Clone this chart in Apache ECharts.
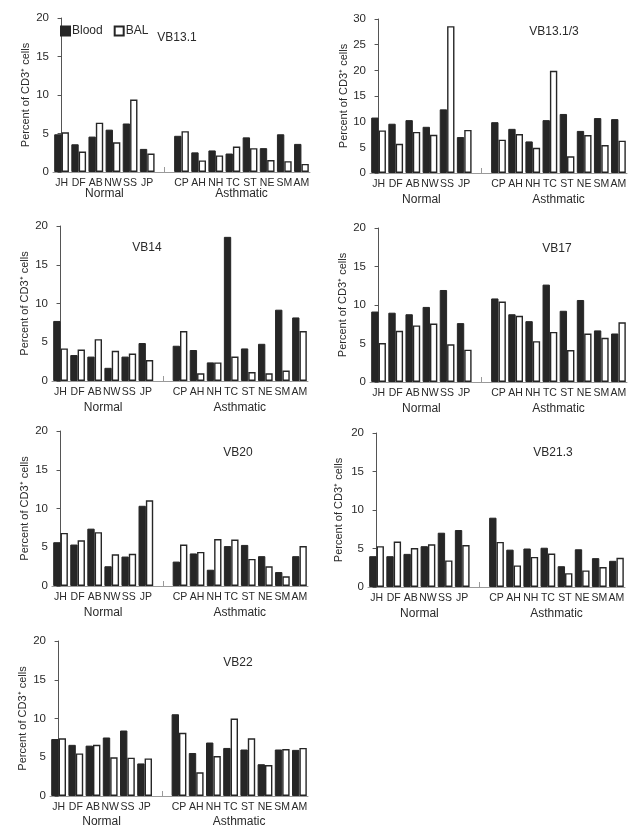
<!DOCTYPE html>
<html>
<head>
<meta charset="utf-8">
<script src="https://cdn.jsdelivr.net/npm/echarts@6/dist/echarts.min.js"></script>
<style>
html,body{margin:0;padding:0;background:#fff;}
#main{width:640px;height:833px;}
</style>
</head>
<body>
<div id="main"></div>
<script>
// Categories (the empty one is the gap between groups)
const subjects = ['JH','DF','AB','NW','SS','JP','','CP','AH','NH','TC','ST','NE','SM','AM'];
const groupLabels = ['Normal','Asthmatic'];
const yTicks20 = [0,5,10,15,20];
const yTicks30 = [0,5,10,15,20,25,30];

// VB13.1
const vb131Blood = [4.9,3.6,4.6,5.5,6.3,3.0,null,4.7,2.55,2.8,2.4,4.5,3.1,4.9,3.65];
const vb131Bal   = [5.15,2.65,6.4,3.85,9.4,2.4,null,5.3,1.5,2.15,3.3,3.1,1.55,1.4,1.05];
// VB13.1/3
const vb1313Blood = [10.8,9.6,10.3,9.0,12.4,7.0,null,9.9,8.6,6.15,10.3,11.5,8.2,10.7,10.5];
const vb1313Bal   = [8.3,5.7,8.0,7.45,28.6,8.4,null,6.5,7.6,4.9,19.9,3.25,7.4,5.45,6.3];
// VB14
const vb14Blood = [7.75,3.35,3.15,1.7,3.15,4.9,null,4.55,4.0,2.4,18.6,4.2,4.8,9.2,8.2];
const vb14Bal   = [4.2,4.05,5.4,3.9,3.55,2.7,null,6.45,1.0,2.4,3.15,1.15,1.0,1.35,6.45];
// VB17
const vb17Blood = [9.15,9.0,8.8,9.75,11.95,7.65,null,10.85,8.8,7.9,12.65,9.25,10.65,6.7,6.3];
const vb17Bal   = [5.05,6.65,7.35,7.6,4.9,4.2,null,10.45,8.6,5.3,6.5,4.15,6.3,5.75,7.75];
// VB20
const vb20Blood = [5.65,5.35,7.4,2.55,3.8,10.35,null,3.15,4.2,2.1,5.15,5.3,3.85,1.8,3.85];
const vb20Bal   = [6.85,5.9,6.95,4.1,4.15,11.05,null,5.35,4.4,6.05,6.0,3.5,2.55,1.25,5.15];
// VB21.3
const vb213Blood = [4.0,4.0,4.3,5.3,7.05,7.4,null,9.0,4.85,5.0,5.1,2.7,4.9,3.75,3.4];
const vb213Bal   = [5.3,5.9,5.05,5.55,3.45,5.45,null,5.85,2.8,3.9,4.35,1.8,2.15,2.6,3.8];
// VB22
const vb22Blood = [7.35,6.6,6.5,7.55,8.45,4.2,null,10.55,5.55,6.9,6.2,6.0,4.1,6.0,5.95];
const vb22Bal   = [7.45,5.5,6.6,5.0,4.95,4.85,null,8.15,3.05,5.15,10.0,7.45,4.0,6.05,6.2];

const FONT = 'Liberation Sans, Arial, Helvetica, sans-serif';
const TXT = '#2a2a2a';
const DARK = '#262626';

const panels = [
  {title:'VB13.1',   blood:vb131Blood,  bal:vb131Bal,  ticks:yTicks20, grid:{left:53,top:18,width:257,height:154}, tpos:[177,38],  gm:16, ng:22},
  {title:'VB13.1/3', blood:vb1313Blood, bal:vb1313Bal, ticks:yTicks30, grid:{left:370,top:19,width:257,height:154}, tpos:[554,32], gm:21, ng:20},
  {title:'VB14',     blood:vb14Blood,   bal:vb14Bal,   ticks:yTicks20, grid:{left:52,top:226,width:256,height:155}, tpos:[147,248], gm:21, ng:22},
  {title:'VB17',     blood:vb17Blood,   bal:vb17Bal,   ticks:yTicks20, grid:{left:370,top:228,width:257,height:154}, tpos:[557,249], gm:21, ng:22},
  {title:'VB20',     blood:vb20Blood,   bal:vb20Bal,   ticks:yTicks20, grid:{left:52,top:431,width:256,height:155}, tpos:[238,453], gm:21, ng:22},
  {title:'VB21.3',   blood:vb213Blood,  bal:vb213Bal,  ticks:yTicks20, grid:{left:368,top:433,width:257,height:154}, tpos:[553,453], gm:21, ng:24},
  {title:'VB22',     blood:vb22Blood,   bal:vb22Bal,   ticks:yTicks20, grid:{left:50,top:641,width:258,height:155}, tpos:[238,663], gm:20, ng:22}
];

const grids = [], xAxes = [], yAxes = [], series = [], graphics = [];
const gapIndex = subjects.indexOf('');
const normalCenter = (0 + gapIndex - 1) / 2;
const asthCenter = (gapIndex + 1 + subjects.length - 1) / 2;

panels.forEach((p, i) => {
  grids.push(Object.assign({containLabel:false}, p.grid));
  // category axis
  xAxes.push({
    type:'category', gridIndex:i, data:subjects, position:'bottom',
    axisLine:{show:true, lineStyle:{color:'#9a9a9a', width:1}},
    axisTick:{show:true, inside:true, length:5, alignWithLabel:true,
      interval:(idx) => idx === gapIndex, lineStyle:{color:'#9a9a9a'}},
    axisLabel:{interval:0, color:TXT, fontSize:10.5, fontFamily:FONT, margin:6},
    splitLine:{show:false}
  });
  // group label axis
  xAxes.push({
    type:'value', gridIndex:i, position:'bottom', min:-0.5, max:subjects.length - 0.5, interval:0.5,
    axisLine:{show:false}, axisTick:{show:false}, splitLine:{show:false},
    axisLabel:{color:TXT, fontSize:12, fontFamily:FONT, margin:p.gm, showMinLabel:true, showMaxLabel:true,
      formatter:(v) => v === normalCenter ? groupLabels[0] : (v === asthCenter ? groupLabels[1] : '')}
  });
  const tk = p.ticks;
  yAxes.push({
    type:'value', gridIndex:i, min:tk[0], max:tk[tk.length-1], interval:tk[1]-tk[0],
    name:'Percent of CD3\u207A cells', nameLocation:'middle', nameGap:p.ng,
    nameTextStyle:{color:TXT, fontSize:11, fontFamily:FONT},
    axisLine:{show:true, lineStyle:{color:'#555', width:1}},
    axisTick:{show:true, length:4, lineStyle:{color:'#555'}},
    axisLabel:{color:TXT, fontSize:11.5, fontFamily:FONT, margin:4},
    splitLine:{show:false}
  });
  series.push({
    name:'Blood', type:'bar', xAxisIndex:2*i, yAxisIndex:i, data:p.blood,
    barGap:'0%', barCategoryGap:'14%',
    itemStyle:{color:DARK, borderColor:DARK, borderWidth:1}, animation:false
  });
  series.push({
    name:'BAL', type:'bar', xAxisIndex:2*i, yAxisIndex:i, data:p.bal,
    barGap:'0%', barCategoryGap:'14%',
    itemStyle:{color:'#ffffff', borderColor:DARK, borderWidth:1.4}, animation:false
  });
  graphics.push({
    type:'text', x:p.tpos[0], y:p.tpos[1],
    style:{text:p.title, fill:TXT, font:'12px ' + FONT, textAlign:'center', textVerticalAlign:'middle'}
  });
});

const chart = echarts.init(document.getElementById('main'), null, {renderer:'canvas', width:640, height:833});
chart.setOption({
  backgroundColor:'#ffffff',
  animation:false,
  legend:{
    data:[{name:'Blood', icon:'rect'},{name:'BAL', icon:'rect'}], left:55, top:20, itemWidth:9, itemHeight:9, itemGap:11,
    textStyle:{color:TXT, fontSize:12, fontFamily:FONT, padding:[0,0,0,-3]},
    selectedMode:false
  },
  grid:grids, xAxis:xAxes, yAxis:yAxes, series:series, graphic:graphics
});
</script>
</body>
</html>
